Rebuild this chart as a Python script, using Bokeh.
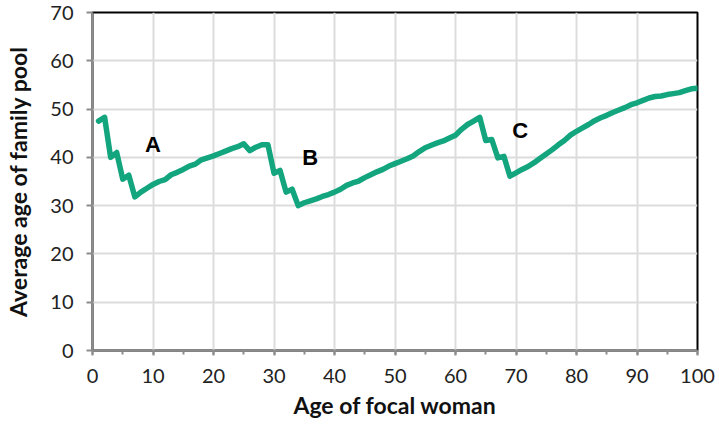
from bokeh.plotting import figure
from bokeh.models import Range1d, SingleIntervalTicker, ColumnDataSource
from bokeh.core.properties import value
from bokeh.embed import file_html
from bokeh.resources import INLINE

ages = list(range(1, 101))
avg_age = [
    47.5, 48.3, 40.0, 41.0, 35.5, 36.3, 31.8, 32.8, 33.6, 34.4,
    35.0, 35.4, 36.4, 36.9, 37.5, 38.2, 38.6, 39.5, 39.9, 40.3,
    40.8, 41.3, 41.8, 42.2, 42.8, 41.4, 42.1, 42.6, 42.6, 36.7,
    37.3, 32.8, 33.4, 30.0, 30.6, 31.0, 31.4, 31.9, 32.3, 32.8,
    33.4, 34.2, 34.7, 35.1, 35.8, 36.4, 37.0, 37.5, 38.2, 38.7,
    39.2, 39.7, 40.3, 41.2, 42.0, 42.5, 43.0, 43.4, 44.0, 44.6,
    45.8, 46.8, 47.5, 48.3, 43.5, 43.7, 39.9, 40.2, 36.1, 36.8,
    37.5, 38.1, 38.9, 39.8, 40.7, 41.6, 42.6, 43.5, 44.6, 45.4,
    46.1, 46.8, 47.6, 48.2, 48.7, 49.3, 49.8, 50.3, 50.9, 51.3,
    51.8, 52.3, 52.6, 52.7, 53.0, 53.2, 53.4, 53.8, 54.2, 54.3,
]

label_text = ["A", "B", "C"]
label_x = [10.0, 36.0, 70.7]
label_y = [42.6, 40.0, 45.5]

x_title = "Age of focal woman"
y_title = "Average age of family pool"

FONT = "Lato"

p = figure(
    width=719, height=425,
    x_range=Range1d(0, 100), y_range=Range1d(0, 70),
    output_backend="svg", toolbar_location=None,
    min_border_left=92, min_border_right=22,
    min_border_top=12, min_border_bottom=75,
)
p.background_fill_color = "white"
p.border_fill_color = "white"
p.outline_line_color = "black"
p.outline_line_width = 2

# grids
p.xgrid.ticker = SingleIntervalTicker(interval=10)
p.ygrid.ticker = SingleIntervalTicker(interval=10)
for g in (p.xgrid, p.ygrid):
    g.grid_line_color = "#dcdcdc"
    g.grid_line_width = 2

# x axis
xa = p.xaxis[0]
xa.ticker = SingleIntervalTicker(interval=10, num_minor_ticks=2)
xa.axis_label = x_title
xa.axis_line_color = "#8c8c8c"
xa.axis_line_width = 2
xa.major_tick_line_color = "#8c8c8c"
xa.major_tick_line_width = 2
xa.major_tick_in = 0
xa.major_tick_out = 5
xa.minor_tick_line_color = "#8c8c8c"
xa.minor_tick_line_width = 2
xa.minor_tick_in = 0
xa.minor_tick_out = 4
xa.major_label_standoff = 13
xa.axis_label_standoff = 5

# y axis
ya = p.yaxis[0]
ya.ticker = SingleIntervalTicker(interval=10, num_minor_ticks=0)
ya.axis_label = y_title
ya.axis_line_color = "#8c8c8c"
ya.axis_line_width = 2
ya.major_tick_line_color = "#8c8c8c"
ya.major_tick_line_width = 2
ya.major_tick_in = 0
ya.major_tick_out = 6
ya.minor_tick_line_color = None
ya.major_label_standoff = 13
ya.axis_label_standoff = 15

for ax in (xa, ya):
    ax.major_label_text_font = FONT
    ax.major_label_text_font_size = "20px"
    ax.major_label_text_color = "#222222"
    ax.axis_label_text_font = FONT
    ax.axis_label_text_font_size = "23px"
    ax.axis_label_text_font_style = "bold"
    ax.axis_label_text_color = "#111111"

src = ColumnDataSource(dict(x=ages, y=avg_age))
p.line("x", "y", source=src, line_color="#13a57e", line_width=5.5,
       line_join="round", line_cap="round")

lsrc = ColumnDataSource(dict(x=label_x, y=label_y, t=label_text))
p.text("x", "y", text="t", source=lsrc, text_align="center",
       text_baseline="middle", text_font=value("Liberation Sans"),
       text_font_size="22px", text_font_style="bold", text_color="black")

open("out.html", "w").write(file_html(p, INLINE))
